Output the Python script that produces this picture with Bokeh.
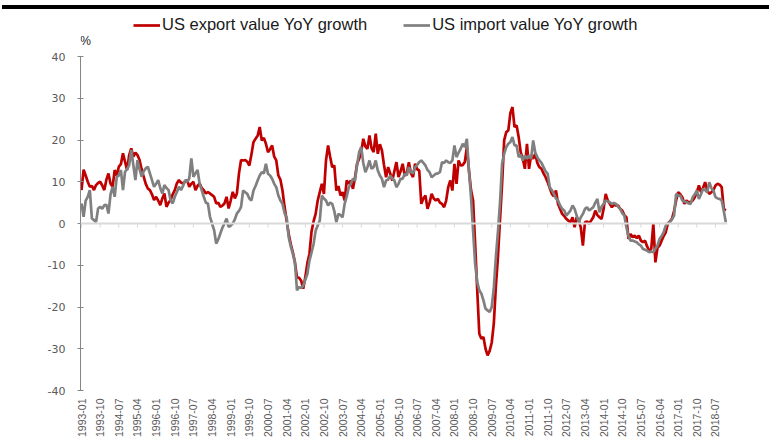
import math
from bokeh.plotting import figure
from bokeh.models import (ColumnDataSource, FixedTicker, Legend, LegendItem,
                          Label, Range1d, Span, Div)
from bokeh.layouts import column
from bokeh.embed import file_html
from bokeh.resources import INLINE

# ---------------- data ----------------
start_year = 1993

tick_labels = ["1993-01", "1993-10", "1994-07", "1995-04", "1996-01", "1996-10",
               "1997-07", "1998-04", "1999-01", "1999-10", "2000-07", "2001-04",
               "2002-01", "2002-10", "2003-07", "2004-04", "2005-01", "2005-10",
               "2006-07", "2007-04", "2008-01", "2008-10", "2009-07", "2010-04",
               "2011-01", "2011-10", "2012-07", "2013-04", "2014-01", "2014-10",
               "2015-07", "2016-04", "2017-01", "2017-10", "2018-07"]

y_ticks = [-40, -30, -20, -10, 0, 10, 20, 30, 40]

# US export value YoY growth (%), monthly 1993-01 .. 2018-12
export_yoy = [
    8.0, 12.9, 11.5, 10.0, 8.8, 9.0, 8.0, 9.2, 9.7, 10.0, 9.1, 8.0,          # 1993
    10.5, 12.0, 9.5, 8.8, 12.8, 11.5, 13.6, 14.2, 16.8, 14.8, 12.8, 16.4,    # 1994
    18.0, 16.0, 17.0, 16.4, 15.2, 13.0, 11.2, 9.5, 8.4, 8.0, 7.0, 5.6,       # 1995
    6.4, 5.5, 4.4, 6.0, 7.2, 4.0, 5.0, 5.6, 7.0, 8.0, 9.6, 10.4,             # 1996
    9.8, 9.6, 10.0, 10.4, 8.8, 9.5, 10.0, 8.0, 9.0, 9.6, 8.5, 8.0,           # 1997
    7.2, 7.5, 7.2, 6.8, 6.4, 4.8, 5.0, 4.0, 4.3, 4.8, 6.4, 3.6,              # 1998
    5.5, 7.6, 6.0, 7.2, 12.0, 15.2, 15.1, 15.2, 14.8, 13.9, 16.5, 19.5,      # 1999
    20.3, 21.0, 23.1, 19.9, 20.5, 19.1, 17.1, 17.8, 18.7, 16.0, 15.1, 11.5,  # 2000
    10.5, 7.9, 4.0, 0.7, -2.5, -5.0, -6.9, -9.3, -12.9, -13.0, -13.7, -15.6, # 2001
    -12.9, -9.5, -7.3, -2.0, 0.5, 2.3, 5.5, 7.5, 9.5, 7.1, 15.1, 18.7,       # 2002
    16.0, 13.5, 13.9, 7.9, 9.0, 6.7, 7.5, 5.5, 10.3, 9.5, 10.3, 8.3,         # 2003
    11.0, 14.3, 15.5, 17.1, 20.3, 18.5, 17.9, 21.1, 18.0, 17.1, 21.5, 16.7,  # 2004
    19.0, 17.5, 14.0, 11.1, 13.5, 12.0, 10.3, 12.5, 14.7, 11.1, 12.5, 14.3,  # 2005
    11.5, 12.0, 14.7, 12.0, 11.1, 14.3, 13.0, 12.7, 4.7, 6.0, 6.7, 3.5,      # 2006
    5.0, 7.1, 6.0, 5.5, 5.9, 5.0, 4.7, 3.9, 5.5, 8.7, 10.3, 7.9,             # 2007
    14.3, 9.5, 15.1, 13.9, 14.0, 14.7, 18.3, 12.7, 8.0, 5.5, -4.9, -16.0,    # 2008
    -26.4, -27.6, -27.2, -30.0, -31.6, -30.5, -28.5, -24.0, -15.0, -8.0, 1.0, 9.5,  # 2009
    19.9, 21.9, 22.3, 26.5, 27.9, 23.1, 23.5, 20.7, 17.0, 15.5, 13.1, 19.1,  # 2010
    13.1, 16.3, 15.5, 16.7, 14.5, 13.5, 13.1, 12.0, 11.1, 9.9, 8.5, 7.1,     # 2011
    6.5, 7.9, 4.7, 3.5, 2.3, 1.8, 1.1, 0.7, 0.3, 1.5, -0.9, 1.5,             # 2012
    0.7, -1.0, -5.3, 0.3, 0.5, 0.0, 0.7, 1.5, 3.1, 2.0, 1.5, 1.1,            # 2013
    3.5, 7.1, 5.5, 4.7, 3.9, 4.5, 4.3, 4.3, 3.5, 3.1, 2.0, 1.5,              # 2014
    -3.7, -2.5, -3.3, -2.9, -3.5, -2.9, -4.1, -4.5, -4.1, -5.5, -6.5, -6.1,  # 2015
    0.0, -9.3, -5.8, -5.3, -4.1, -3.0, -2.1, 0.0, 0.5, 1.1, 3.0, 5.5,        # 2016
    7.5, 7.0, 6.3, 4.7, 5.5, 5.1, 5.1, 5.5, 6.3, 7.5, 9.1, 7.5,              # 2017
    8.5, 9.9, 8.0, 7.1, 7.5, 8.0, 9.1, 9.5, 9.3, 8.7, 3.5, 3.1,              # 2018
]

# US import value YoY growth (%), monthly 1993-01 .. 2018-12
import_yoy = [
    4.8, 1.6, 5.5, 6.4, 8.0, 1.2, 0.8, 0.4, 3.6, 4.0, 3.5, 4.4,              # 1993
    4.5, 2.4, 7.0, 8.8, 6.4, 11.2, 11.5, 12.8, 8.0, 12.4, 13.0, 14.0,        # 1994
    17.6, 14.0, 10.4, 15.2, 13.0, 11.2, 12.5, 13.2, 13.6, 12.0, 10.4, 8.8,   # 1995
    9.5, 10.4, 8.5, 7.2, 9.2, 8.5, 8.0, 5.5, 4.8, 6.4, 7.5, 8.8,             # 1996
    8.0, 9.0, 10.4, 10.0, 10.8, 15.6, 11.2, 12.0, 12.8, 9.6, 8.0, 6.4,       # 1997
    5.0, 4.8, 1.6, 0.0, -1.6, -4.8, -3.8, -2.4, -1.0, 0.0, 1.2, -0.8,        # 1998
    -0.5, 0.0, 1.0, 2.4, 3.0, 4.0, 7.9, 7.5, 7.1, 6.0, 5.5, 7.9,             # 1999
    9.0, 10.3, 11.5, 12.3, 12.0, 14.3, 11.9, 11.5, 10.7, 9.5, 8.7, 6.7,      # 2000
    5.5, 4.7, 2.5, 1.5, -3.3, -5.5, -7.3, -9.3, -16.0, -15.2, -15.5, -14.9,  # 2001
    -13.5, -12.1, -8.9, -7.0, -4.9, -1.7, -0.5, 0.7, 6.7, 6.0, 5.5, 4.3,     # 2002
    5.0, 4.7, 3.0, 0.3, 2.3, 2.0, 1.5, 4.7, 6.5, 8.7, 9.5, 10.7,             # 2003
    10.3, 14.0, 17.1, 18.3, 14.5, 12.3, 13.5, 15.1, 13.1, 13.5, 15.1, 12.7,  # 2004
    11.5, 10.7, 8.7, 10.3, 10.5, 11.5, 10.8, 10.3, 8.7, 9.5, 10.7, 10.7,     # 2005
    11.9, 11.5, 13.5, 12.3, 12.0, 13.5, 14.0, 14.7, 15.1, 14.5, 13.9, 12.8,  # 2006
    12.3, 11.1, 11.5, 11.9, 12.0, 12.3, 14.7, 14.5, 15.1, 14.7, 14.5, 15.1,  # 2007
    18.7, 15.9, 17.0, 17.9, 19.1, 18.3, 20.3, 12.7, 6.3, -1.7, -9.7, -14.0,  # 2008
    -16.0, -16.8, -18.4, -20.4, -20.8, -21.2, -20.0, -15.5, -8.0, -2.0, 5.0, 14.3,  # 2009
    16.7, 18.3, 19.1, 19.5, 20.7, 18.7, 18.7, 15.9, 16.5, 15.1, 16.3, 15.5,  # 2010
    16.3, 15.5, 19.9, 17.0, 15.9, 15.1, 14.5, 13.5, 12.5, 11.9, 8.7, 8.0,    # 2011
    7.1, 6.0, 5.5, 4.3, 3.5, 3.1, 1.9, 2.5, 3.1, 4.3, 3.5, 1.9,              # 2012
    0.3, 1.5, 2.3, 3.5, 3.9, 3.1, 3.5, 3.9, 5.0, 5.9, 2.7, 4.0,              # 2013
    4.7, 5.5, 5.3, 5.1, 4.7, 4.9, 4.7, 4.0, 3.5, 2.5, 1.9, -0.9,             # 2014
    -3.0, -4.1, -4.1, -4.3, -4.5, -5.0, -5.3, -6.1, -6.3, -6.5, -6.9, -6.7,  # 2015
    -6.9, -6.0, -5.3, -3.7, -3.0, -2.1, -0.5, 0.0, 0.3, 1.0, 1.9, 7.1,       # 2016
    6.7, 6.7, 5.5, 5.3, 5.1, 4.8, 4.7, 6.3, 7.0, 7.9, 5.9, 7.0,              # 2017
    8.3, 8.0, 7.5, 9.9, 8.5, 7.9, 6.3, 6.0, 5.9, 5.5, 3.0, 0.3,              # 2018
]

series_names = ["US export value YoY growth", "US import value YoY growth"]
series_colors = ["#C00000", "#808080"]

# ---------------- derived ----------------
n = len(export_yoy)
months = [f"{start_year + i // 12}-{i % 12 + 1:02d}" for i in range(n)]
idx = list(range(n))
tick_pos = [months.index(t) for t in tick_labels]

src = ColumnDataSource(dict(x=idx, exp=export_yoy, imp=import_yoy, month=months))
tick_src = ColumnDataSource(dict(x=tick_pos, y0=[0] * len(tick_pos),
                                 y1=[-1.0] * len(tick_pos)))

# frame extends to the top of the figure so the legend sits inside it
y_top = y_ticks[-1] + 11.26
p = figure(width=765, height=432,
           x_range=Range1d(-0.5, n - 0.2), y_range=Range1d(y_ticks[0], y_top),
           output_backend="svg", toolbar_location=None,
           min_border_left=80, min_border_right=38,
           min_border_top=0, min_border_bottom=51)
p.outline_line_color = None
p.grid.visible = False
p.background_fill_color = "white"

# zero line with category ticks
p.add_layout(Span(location=0, dimension="width", line_color="#D9D9D9", line_width=2))
p.segment("x", "y0", "x", "y1", source=tick_src, line_color="#D9D9D9", line_width=1)

r_exp = p.line("x", "exp", source=src, color=series_colors[0], line_width=2.7)
r_imp = p.line("x", "imp", source=src, color=series_colors[1], line_width=2.7)

# bottom axis: rotated date labels only
xa = p.xaxis[0]
xa.ticker = FixedTicker(ticks=tick_pos)
xa.major_label_overrides = {pos: lab for pos, lab in zip(tick_pos, tick_labels)}
xa.major_label_orientation = math.pi / 2
xa.axis_line_color = None
xa.major_tick_line_color = None
xa.major_tick_out = 0
xa.major_tick_in = 0
xa.minor_tick_line_color = None
xa.minor_tick_out = 0
xa.major_label_text_font = "Liberation Sans"
xa.major_label_text_font_size = "10.5px"
xa.major_label_text_color = "#595959"
xa.major_label_standoff = 8

# left value axis (line limited to -40..40)
ya = p.yaxis[0]
ya.ticker = FixedTicker(ticks=y_ticks)
ya.major_label_overrides = {t: str(t) for t in y_ticks}
ya.bounds = (y_ticks[0], y_ticks[-1])
ya.axis_line_color = "#868686"
ya.major_tick_line_color = "#868686"
ya.major_tick_in = 3
ya.major_tick_out = 3
ya.minor_tick_line_color = None
ya.major_label_text_font = "DejaVu Sans"
ya.major_label_text_font_size = "11px"
ya.major_label_text_color = "#595959"
ya.major_label_standoff = 12

# unit label
p.add_layout(Label(x=1.9, y=43.7, text="%", text_font="Liberation Sans",
                   text_font_size="12px", text_color="#262626",
                   text_align="center", text_baseline="middle"))

legend = Legend(items=[LegendItem(label=series_names[0], renderers=[r_exp]),
                       LegendItem(label=series_names[1], renderers=[r_imp])],
                orientation="horizontal", location=(53, 356),
                border_line_color=None, background_fill_alpha=0,
                padding=0, margin=0, spacing=36, label_standoff=2,
                glyph_width=27, glyph_height=18, label_height=18,
                label_text_font="Liberation Sans", label_text_font_size="16.5px",
                label_text_color="#1a1a1a")
p.add_layout(legend)

# thin black band at the very top of the picture
top_bar = Div(width=767, height=4, margin=(5, 0, 0, 2),
              styles={"background-color": "#000000"})
layout = column(top_bar, p, spacing=0)

open("out.html", "w").write(file_html(layout, INLINE))
